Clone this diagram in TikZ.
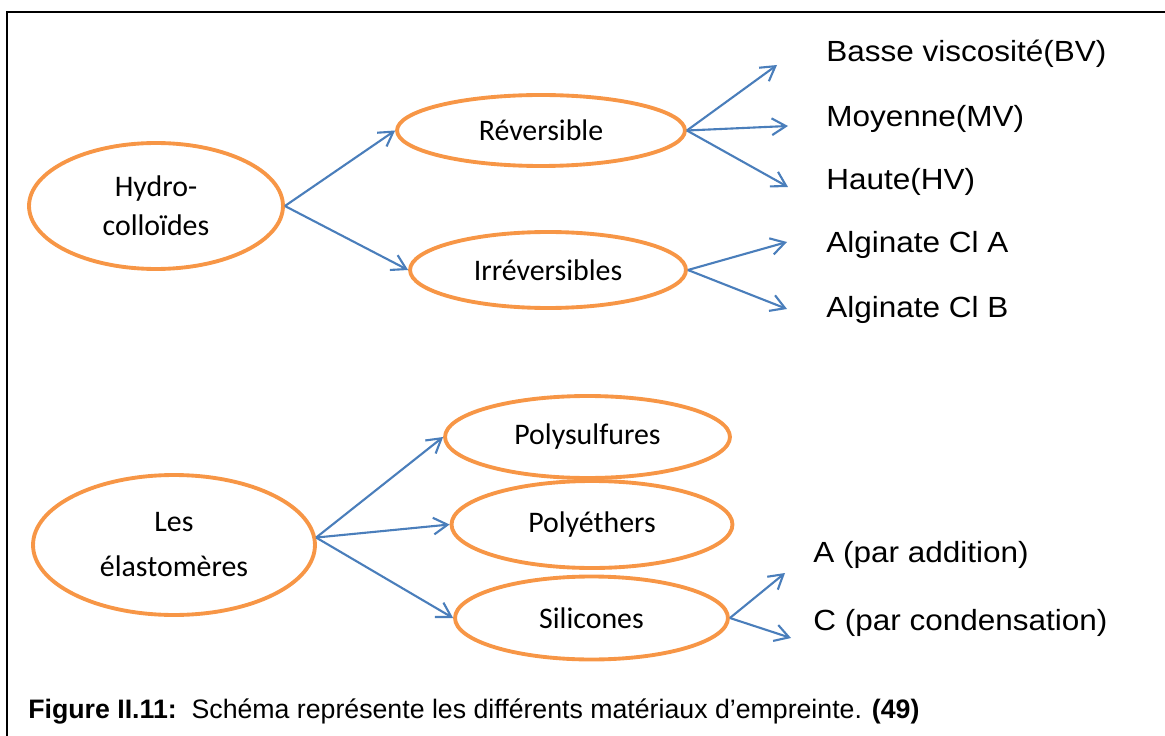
\documentclass[tikz,border=0pt]{standalone}
\usepackage{fontspec}
\usepackage{tikz}
\usetikzlibrary{shapes.geometric,arrows.meta}
\newfontfamily\ovalfont{Carlito}
\newfontfamily\labelfont[FakeStretch=1.08]{Liberation Sans}
\newfontfamily\capfont{Liberation Sans}
\definecolor{ovalorange}{HTML}{F79646}
\definecolor{arrblue}{HTML}{4A7EBB}

\begin{document}
\begin{tikzpicture}[x=0.02cm, y=-0.02cm,
  oval/.style={ellipse, draw=ovalorange, line width=2.2pt, inner sep=0pt, align=center, font=\ovalfont\fontsize{17}{22}\selectfont},
  lbl/.style={anchor=base west, inner sep=0pt, font=\labelfont\fontsize{16.6}{19}\selectfont},
  arr/.style={-{Straight Barb[length=8pt, width=9.5pt]}, arrblue, line width=1.2pt}]
\useasboundingbox (0,0) rectangle (1165,736);
\draw[line width=0.9pt] (1165,12) -| (7,736);
\node[oval, minimum width=5.08cm, minimum height=2.52cm] (hyd) at (156,206) {Hydro-\\colloïdes};
\node[oval, minimum width=5.76cm, minimum height=1.42cm] (rev) at (541,130.5) {Réversible};
\node[oval, minimum width=5.52cm, minimum height=1.52cm] (irr) at (548,270) {Irréversibles};
\node[oval, minimum width=5.64cm, minimum height=2.8cm, font=\ovalfont\fontsize{17}{25.6}\selectfont] (ela) at (174,545) {Les\\élastomères};
\node[oval, minimum width=5.7cm, minimum height=1.64cm] (psf) at (587.5,437) {Polysulfures};
\node[oval, minimum width=5.62cm, minimum height=1.74cm] (pet) at (592,524.5) {Polyéthers};
\node[oval, minimum width=5.46cm, minimum height=1.66cm] (sil) at (591.5,618) {Silicones};
\node[lbl] (bv) at (826,62) {Basse viscosité(BV)};
\node[lbl] (mv) at (826,127) {Moyenne(MV)};
\node[lbl] (hv) at (826,190) {Haute(HV)};
\node[lbl] (ala) at (826,253) {Alginate Cl A};
\node[lbl] (alb) at (826,317) {Alginate Cl B};
\node[lbl] (add) at (813,562) {A (par addition)};
\node[lbl] (con) at (813,630) {C (par condensation)};
\coordinate (tbv) at (777,65);
\coordinate (tmv) at (788,126);
\coordinate (thv) at (788,187);
\coordinate (tala) at (787,242);
\coordinate (talb) at (787,309);
\coordinate (tadd) at (785,573);
\coordinate (tcon) at (791,638);
\draw[arr] (hyd.east) -- (rev.west);
\draw[arr] (hyd.east) -- (irr.west);
\draw[arr] (rev.east) -- (tbv);
\draw[arr] (rev.east) -- (tmv);
\draw[arr] (rev.east) -- (thv);
\draw[arr] (irr.east) -- (tala);
\draw[arr] (irr.east) -- (talb);
\draw[arr] (ela.3) -- (psf.west);
\draw[arr] (ela.3) -- (pet.west);
\draw[arr] (ela.3) -- (sil.west);
\draw[arr] (sil.east) -- (tadd);
\draw[arr] (sil.east) -- (tcon);
\node[anchor=base west, inner sep=0pt, font=\capfont\fontsize{15.2}{18}\selectfont] (cap) at (28,718) {\textbf{Figure II.11:}\ \ Schéma représente les différents matériaux d’empreinte. \textbf{(49)}};
\end{tikzpicture}
\end{document}
